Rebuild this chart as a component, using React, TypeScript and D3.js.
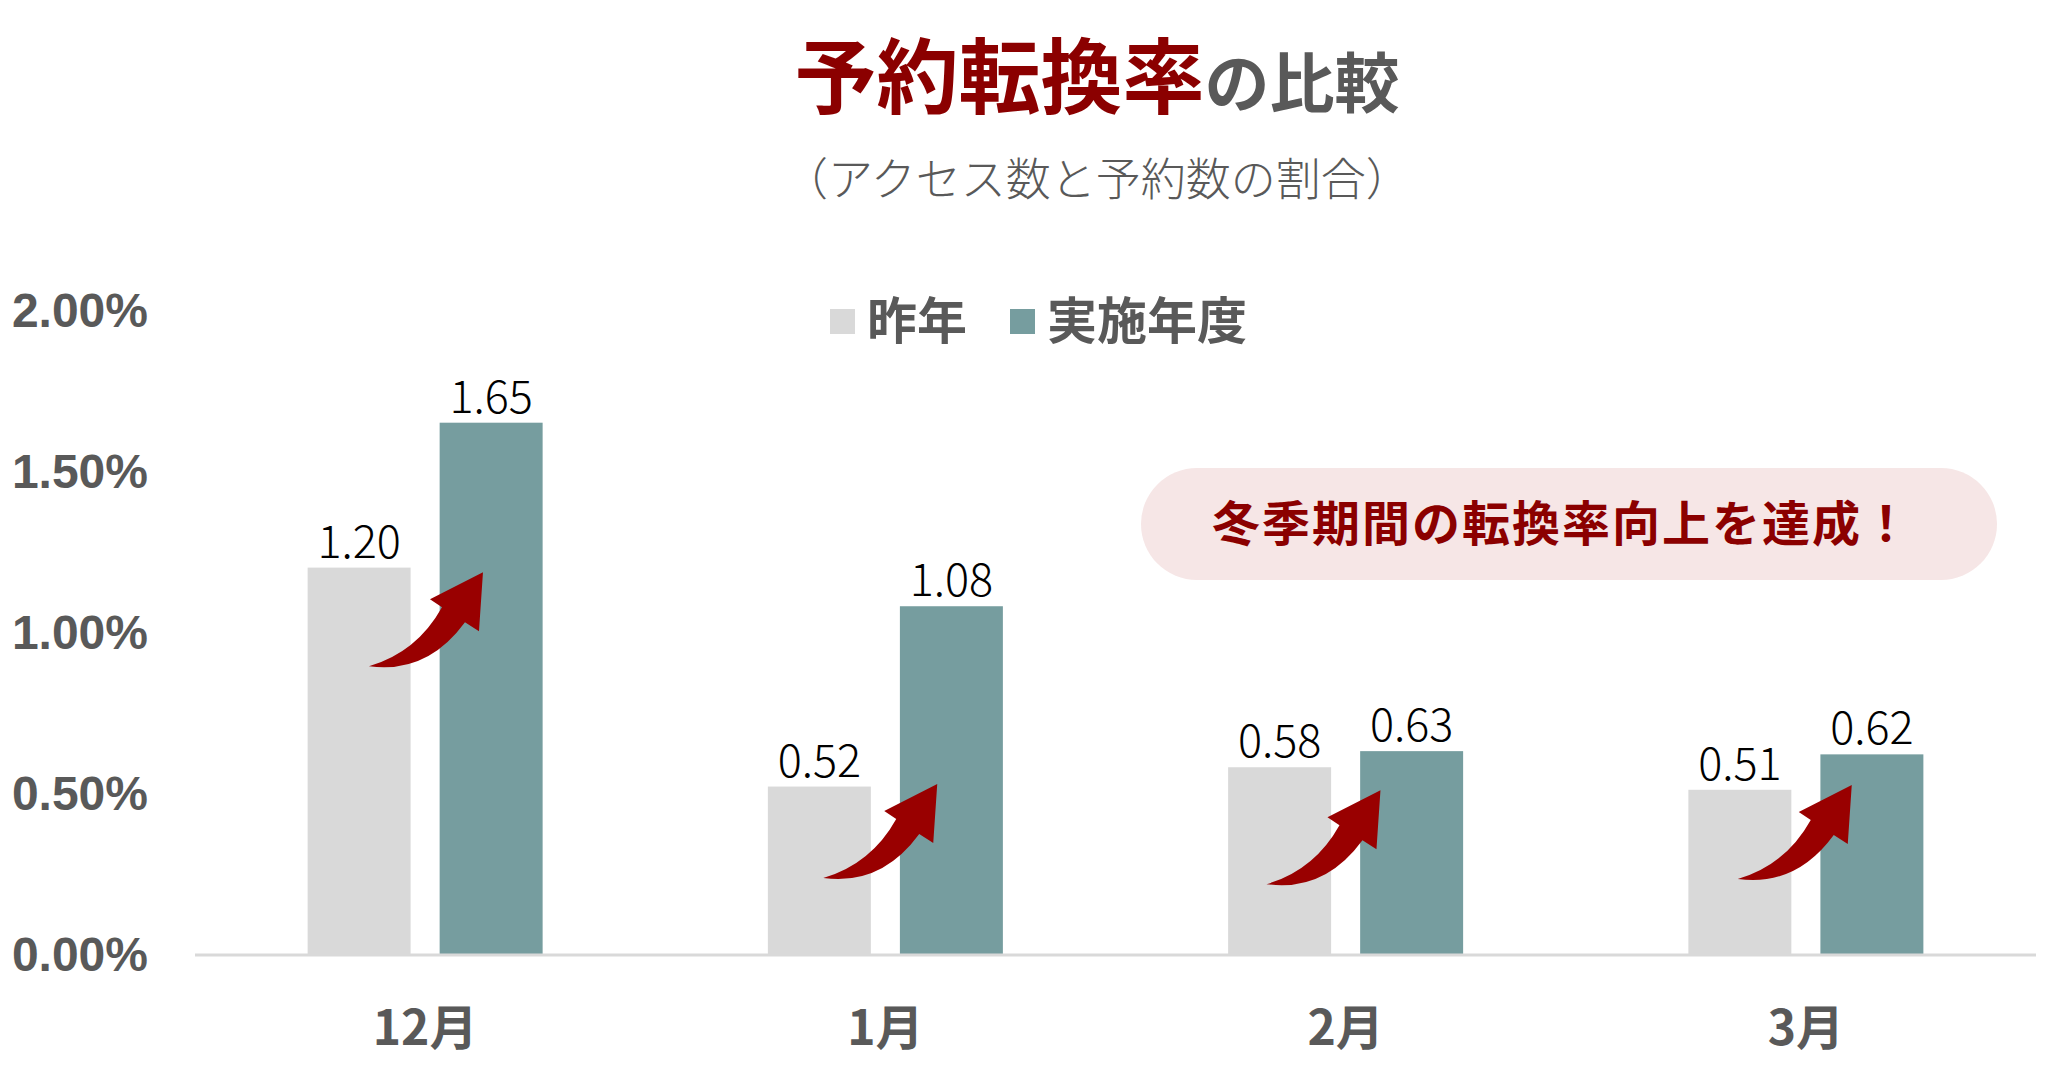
import React from "react";
import * as d3 from "d3";

const categories = ["12月", "1月", "2月", "3月"];
const seriesNames = ["昨年", "実施年度"];
const lastYear = [1.2, 0.52, 0.58, 0.51];
const thisYear = [1.65, 1.08, 0.63, 0.62];
const yTicks = [0, 0.5, 1.0, 1.5, 2.0];
// arrow annotation anchors (tail) in data units: value, and offset as fraction of band
const arrowTailValues = [0.894, 0.236, 0.217, 0.233];
const arrowTailBandOffsets = [-0.122, -0.135, -0.172, -0.148];

const W = 2066;
const H = 1077;
const colors = ["#D9D9D9", "#769D9F"];
const gray = "#595959";
const red = "#8B0000";
const jp = "'Noto Sans CJK JP', 'Noto Sans', sans-serif";

export default function App() {
  const x0 = d3.scaleBand<string>().domain(categories).range([195, 2036]).paddingInner(0).paddingOuter(0);
  const x1 = d3.scaleBand<string>().domain(seriesNames).range([-117.5, 117.5]).paddingInner(0.22).paddingOuter(0);
  const y = d3.scaleLinear().domain([0, 2]).range([954, 310]);
  const values = [lastYear, thisYear];

  const arrowPath = "M0,0 Q48,-14 73,-59 L61,-67 L114,-94 L110,-35 L96,-44 Q58,8 0,0 Z";

  return (
    <svg width={W} height={H} style={{ position: "absolute", left: 0, top: 0, background: "#fff" }}>
      {/* Title */}
      <text x={1097} y={107} textAnchor="middle" fontFamily={jp} fontWeight={700}>
        <tspan fill={red} fontSize={82}>予約転換率</tspan>
        <tspan fill={gray} fontSize={65}>の比較</tspan>
      </text>
      <text x={1097} y={196} textAnchor="middle" fontFamily={jp} fontWeight={300} fontSize={45} fill={gray}>
        （アクセス数と予約数の割合）
      </text>

      {/* Legend */}
      <rect x={830} y={309} width={25} height={25} fill={colors[0]} />
      <text x={867} y={339} fontFamily={jp} fontWeight={700} fontSize={50} fill={gray}>{seriesNames[0]}</text>
      <rect x={1010} y={309} width={25} height={25} fill={colors[1]} />
      <text x={1047} y={339} fontFamily={jp} fontWeight={700} fontSize={50} fill={gray}>{seriesNames[1]}</text>

      {/* Y axis tick labels */}
      {yTicks.map((t) => (
        <text key={t} x={148} y={y(t)} dy="0.36em" textAnchor="end" fontFamily="'Liberation Sans', Arial, sans-serif" fontWeight={700} fontSize={48} fill={gray}>
          {d3.format(".2f")(t) + "%"}
        </text>
      ))}

      {/* Bars */}
      {categories.map((c, i) => (
        <g key={c} transform={`translate(${x0(c)! + x0.bandwidth() / 2},0)`}>
          {seriesNames.map((s, j) => {
            const v = values[j][i];
            return (
              <g key={s}>
                <rect x={x1(s)!} y={y(v)} width={x1.bandwidth()} height={y(0) - y(v)} fill={colors[j]} />
                <text x={x1(s)! + x1.bandwidth() / 2} y={y(v) - 10} textAnchor="middle" fontFamily={jp} fontWeight={300} fontSize={45} fill="#000">
                  {d3.format(".2f")(v)}
                </text>
              </g>
            );
          })}
        </g>
      ))}

      {/* axis line */}
      <line x1={195} x2={2036} y1={y(0) + 1} y2={y(0) + 1} stroke="#D9D9D9" strokeWidth={3} />

      {/* x labels */}
      {categories.map((c) => (
        <text key={c} x={x0(c)! + x0.bandwidth() / 2} y={1045} textAnchor="middle" fontFamily={jp} fontWeight={700} fontSize={48} fill={gray}>
          {c}
        </text>
      ))}

      {/* arrows */}
      {categories.map((c, i) => {
        const cx = x0(c)! + x0.bandwidth() / 2 + arrowTailBandOffsets[i] * x0.bandwidth();
        const cy = y(arrowTailValues[i]);
        return <path key={c} d={arrowPath} transform={`translate(${cx},${cy})`} fill="#990000" />;
      })}

      {/* callout */}
      <rect x={1141} y={468} width={856} height={112} rx={56} ry={56} fill="#F6E6E6" />
      <text x={1562} y={524} dy="0.36em" textAnchor="middle" fontFamily={jp} fontWeight={700} fontSize={48} fill={red} letterSpacing={2}>
        冬季期間の転換率向上を達成！
      </text>
    </svg>
  );
}
